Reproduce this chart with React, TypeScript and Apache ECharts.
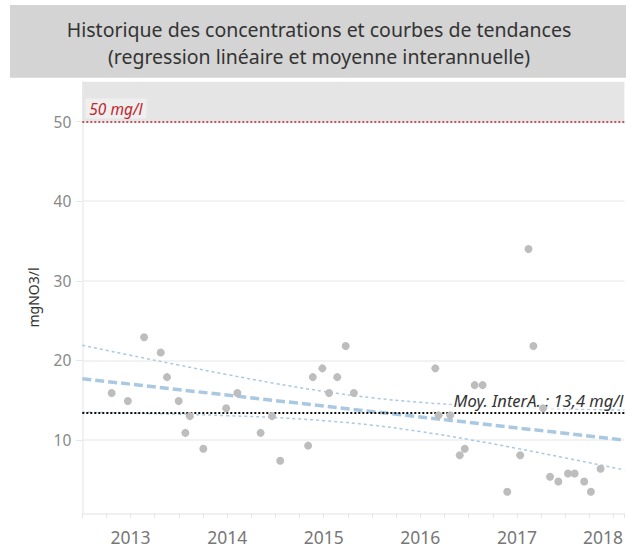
import React, { useEffect, useRef } from 'react';
import * as echarts from 'echarts';

const titleLines = [
  'Historique des concentrations et courbes de tendances',
  '(regression linéaire et moyenne interannuelle)',
];
const yAxisName = 'mgNO3/l';

// sample dates as fractional years
const sampleDates = [
  2012.804, 2012.972, 2013.14, 2013.312, 2013.377, 2013.498, 2013.567, 2013.614, 2013.753, 2013.99,
  2014.106, 2014.346, 2014.464, 2014.549, 2014.838, 2014.887, 2014.986, 2015.055, 2015.14, 2015.227,
  2015.312, 2016.155, 2016.189, 2016.309, 2016.408, 2016.46, 2016.563, 2016.645, 2016.9, 2017.034,
  2017.12, 2017.171, 2017.271, 2017.343, 2017.429, 2017.529, 2017.598, 2017.697, 2017.766, 2017.866,
];
const nitrateValues = [
  15.9, 14.9, 22.9, 21.0, 17.9, 14.9, 10.9, 13.0, 8.9, 14.0,
  15.9, 10.9, 13.0, 7.4, 9.3, 17.9, 19.0, 15.9, 17.9, 21.8,
  15.9, 19.0, 13.1, 13.1, 8.1, 8.9, 16.9, 16.9, 3.5, 8.1,
  34.0, 21.8, 14.0, 5.4, 4.8, 5.8, 5.8, 4.8, 3.5, 6.4,
];

const yTickValues = [10, 20, 30, 40, 50];
const xYearLabels = [2013, 2014, 2015, 2016, 2017, 2018];
const xMin = 2012.5;
const xMax = 2018.113;
const yMin = 0.8;
const yMax = 55;

const trendDates = [2012.5, 2018.113];
const trendValues = [17.7, 10.0];

const bandDates = [2012.5, 2013.0, 2013.5, 2014.0, 2014.5, 2015.0, 2015.5, 2016.0, 2016.5, 2017.0, 2017.5, 2018.113];
const bandUpper = [21.9, 20.64, 19.41, 18.22, 17.1, 16.11, 15.31, 14.74, 14.35, 14.11, 13.92, 13.75];
const bandLower = [13.5, 13.38, 13.25, 13.06, 12.82, 12.43, 11.87, 11.06, 10.07, 8.95, 7.76, 6.25];

const threshold = 50;
const thresholdLabel = '50 mg/l';
const average = 13.4;
const averageLabel = 'Moy. InterA. : 13,4 mg/l';

const FONT = '"Noto Sans", sans-serif';
const BLUE = '#a9c9e3';

export default function App() {
  const ref = useRef<HTMLDivElement>(null);
  useEffect(() => {
    document.body.style.margin = '0';
    const chart = echarts.init(ref.current!, null, { renderer: 'svg' });
    const pts = sampleDates.map((d, i) => [d, nitrateValues[i]]);
    const trend = trendDates.map((d, i) => [d, trendValues[i]]);
    const upper = bandDates.map((d, i) => [d, bandUpper[i]]);
    const lower = bandDates.map((d, i) => [d, bandLower[i]]);
    chart.setOption({
      animation: false,
      textStyle: { fontFamily: FONT },
      title: {
        text: titleLines.join('\n'),
        left: 319,
        top: 16,
        padding: 0,
        textAlign: 'center',
        textStyle: { fontFamily: FONT, fontSize: 19.5, fontWeight: 'normal', color: '#333', lineHeight: 27 },
      },
      graphic: [
        { type: 'rect', z: -10, shape: { x: 10, y: 5, width: 616, height: 72.7 }, style: { fill: '#d4d4d4' } },
      ],
      grid: { left: 82.3, top: 81.7, right: 0, bottom: 34.7 },
      xAxis: {
        type: 'value',
        min: xMin,
        max: xMax,
        interval: 0.25,
        splitLine: { show: false },
        axisLine: { show: true, lineStyle: { color: '#ececec', width: 1.5 } },
        axisTick: { show: true, length: 5, lineStyle: { color: '#e6e6e6' } },
        axisLabel: {
          color: '#777',
          fontSize: 17.5,
          margin: 15,
          fontFamily: FONT,
          customValues: xYearLabels,
          formatter: (v: number) => {
            const r = Math.round(v);
            return r === 2018 ? '{e|2018}' : String(r);
          },
          rich: { e: { padding: [0, 21, 0, 0], fontSize: 17.5, color: '#777', fontFamily: FONT } },
        },
      },
      yAxis: {
        type: 'value',
        min: yMin,
        max: yMax,
        name: yAxisName,
        nameLocation: 'middle',
        nameGap: 42,
        nameTextStyle: { color: '#333', fontSize: 14, fontFamily: FONT },
        axisLine: { show: true, lineStyle: { color: '#ececec', width: 1.5 } },
        axisTick: { show: true, length: 6, customValues: yTickValues, lineStyle: { color: '#e6e6e6' } },
        axisLabel: { color: '#888', fontSize: 15.5, margin: 11, customValues: yTickValues, fontFamily: FONT },
        splitLine: { show: true, lineStyle: { color: '#eeeeee', width: 1.5 } },
      },
      series: [
        {
          type: 'line',
          z: 1,
          data: [],
          silent: true,
          markArea: {
            silent: true,
            itemStyle: { color: '#e5e5e5' },
            data: [[{ yAxis: threshold }, { yAxis: yMax }]],
          },
          markLine: {
            silent: true,
            symbol: 'none',
            data: [
              {
                yAxis: threshold,
                lineStyle: { color: '#b3242c', type: [2, 2], width: 1.5 },
                label: {
                  show: true,
                  position: 'insideStartTop',
                  distance: [3, 3],
                  formatter: thresholdLabel,
                  color: '#c0272d',
                  fontStyle: 'italic',
                  fontSize: 15.5,
                  fontFamily: FONT,
                  backgroundColor: '#efefef',
                  padding: [2, 4, 2, 4],
                },
              },
              {
                yAxis: average,
                lineStyle: { color: '#111', type: [2, 2], width: 2 },
                label: {
                  show: true,
                  position: 'insideEndTop',
                  distance: [0, 4],
                  formatter: averageLabel,
                  color: '#333',
                  fontStyle: 'italic',
                  fontSize: 16.5,
                  fontFamily: FONT,
                  backgroundColor: 'rgba(255,255,255,0.7)',
                  padding: [0, 1, 0, 2],
                },
              },
            ],
          },
        },
        {
          type: 'line',
          z: 2,
          data: upper,
          smooth: true,
          showSymbol: false,
          silent: true,
          lineStyle: { color: BLUE, width: 1.5, type: [3, 3] },
        },
        {
          type: 'line',
          z: 2,
          data: lower,
          smooth: true,
          showSymbol: false,
          silent: true,
          lineStyle: { color: BLUE, width: 1.5, type: [3, 3] },
        },
        {
          type: 'line',
          z: 2,
          data: trend,
          showSymbol: false,
          silent: true,
          lineStyle: { color: BLUE, width: 3.5, type: [9, 4] },
        },
        {
          type: 'scatter',
          z: 5,
          data: pts,
          symbol: 'circle',
          symbolSize: 8,
          itemStyle: { color: '#bdbdbd', opacity: 1 },
        },
      ],
    });
    return () => chart.dispose();
  }, []);
  return <div ref={ref} style={{ width: 626, height: 548 }} />;
}
